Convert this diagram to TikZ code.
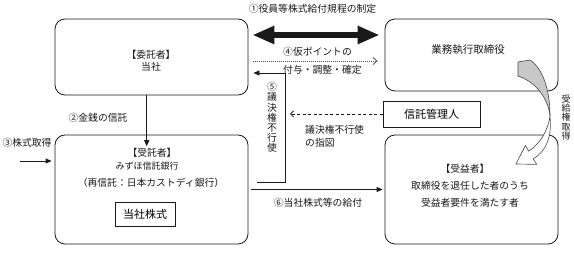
\documentclass[tikz,border=0pt]{standalone}
\usepackage{fontspec}
\setmainfont{Noto Sans CJK JP}
\usetikzlibrary{arrows.meta}
\definecolor{Ink}{HTML}{1A1A1A}
\definecolor{Ribbon}{HTML}{C8C8C8}

\begin{document}
\begin{tikzpicture}[x=1pt,y=-1pt,font=\fontsize{9.8}{12}\selectfont,party/.style={draw=Ink,line width=0.8pt,rounded corners=10pt,inner sep=0pt},plainbox/.style={draw=Ink,line width=0.8pt,inner sep=0pt},lbl/.style={inner sep=0pt,text=Ink},vtext/.style={lbl,align=center,font=\fontsize{9.8}{10.2}\selectfont},flow/.style={draw=Ink,line width=0.8pt,-{Triangle[length=6pt,width=5pt]}},bigflow/.style={draw=Ink,line width=6pt,{Triangle[length=22pt,width=17pt]}-{Triangle[length=22pt,width=17pt]}},dotflow/.style={draw=Ink!75,line width=0.8pt,dash pattern=on 0.8pt off 1.2pt,-{Straight Barb[length=4pt,width=7pt]}},dashflow/.style={draw=Ink,line width=0.8pt,dash pattern=on 3pt off 2.5pt,-{Straight Barb[length=3pt,width=6pt]}}]
\fill[white] (0,0) rectangle (574,261);
\useasboundingbox (0,0) rectangle (574,261);
% parties
\node[party,minimum width=193pt,minimum height=76pt] (consignor) at (151.5,57) {};
\node[lbl,align=center] (consignortxt) at (151,61) {【委託者】\\当社};
\node[party,minimum width=173pt,minimum height=72pt] (exec) at (471.5,55) {};
\node[lbl,font=\fontsize{10.5}{12}\selectfont] (exectxt) at (468,50) {業務執行取締役};
\node[party,minimum width=193pt,minimum height=109pt] (trustee) at (151.5,189.5) {};
\node[lbl] (trusteehead) at (152,153) {【受託者】};
\node[lbl,font=\fontsize{9}{11}\selectfont] (trusteename) at (147,166) {みずほ信託銀行};
\node[lbl] (trusteesub) at (151,183) {（再信託：日本カストディ銀行）};
\node[plainbox,minimum width=60pt,minimum height=24pt,font=\fontsize{11}{13}\selectfont] (stock) at (145,214) {当社株式};
\node[plainbox,minimum width=97pt,minimum height=26pt,font=\fontsize{11}{13}\selectfont] (trustmgr) at (431.5,114) {信託管理人};
\node[party,minimum width=173pt,minimum height=109pt] (benef) at (471.5,189.5) {};
\node[lbl] (benefhead) at (465,169) {【受益者】};
\node[lbl] (benefline1) at (470,186) {取締役を退任した者のうち};
\node[lbl] (benefline2) at (470,203) {受益者要件を満たす者};
% labels
\node[lbl] (lbl1) at (312.5,9) {①役員等株式給付規程の制定};
\node[lbl,anchor=west] (lbl4a) at (283,52) {④仮ポイントの};
\node[lbl,anchor=west] (lbl4b) at (283,70) {付与・調整・確定};
\node[lbl] (lbl2) at (98,118) {②金銭の信託};
\node[lbl] (lbl3) at (27,143) {③株式取得};
\node[vtext] (lbl5) at (272,117.5) {⑤\\議\\決\\権\\不\\行\\使};
\node[lbl,anchor=west] (lblinstra) at (305,130) {議決権不行使};
\node[lbl,anchor=west] (lblinstrb) at (305,143) {の指図};
\node[lbl] (lbl6) at (318,203) {⑥当社株式等の給付};
\node[vtext,font=\fontsize{9}{9.2}\selectfont] (lblright) at (566,117.5) {受\\給\\権\\取\\得};
% helper points
\coordinate (lvl1) at (0,35);
\coordinate (lvl4) at (0,61);
\coordinate (m2) at (146.7,0);
\coordinate (v5top) at (285,73);
\coordinate (v5bot) at (285,182);
\coordinate (src3) at (20,161);
\coordinate (instr) at (290,114);
% connectors
\draw[bigflow,shorten <=4pt,shorten >=5pt] (consignor.east |- lvl1) -- (exec.west |- lvl1);
\draw[dotflow,shorten <=5pt,shorten >=7pt] (consignor.east |- lvl4) -- (exec.west |- lvl4);
\draw[flow,shorten >=2pt] (consignor.south -| m2) -- (trusteehead.north -| m2);
\draw[flow,shorten >=3pt] (src3) -- (trustee.west |- src3);
\draw[flow,shorten <=9pt,shorten >=5pt] (trustee.east |- v5bot) -- (v5bot) -- (v5top) -- (consignor.east |- v5top);
\draw[dashflow] (trustmgr.west) -- (instr);
\draw[flow,shorten <=3pt,shorten >=2pt] (trustee.east) -- (benef.west);
% twisted ribbon arrow
\filldraw[fill=Ribbon,draw=Ink!80,line width=0.6pt] (518,62) -- (530,60) .. controls (542,68) and (550,88) .. (550,116) .. controls (548,98) and (536,82) .. (518,76) -- cycle;
\filldraw[fill=white,draw=Ink!80,line width=0.6pt] (550,116) .. controls (552,138) and (546,151) .. (533.3,158.9) -- (536.7,164.4) -- (516,164) -- (525.3,145.6) -- (528.7,151.1) .. controls (541,143) and (548,130) .. (550,116) -- cycle;
\end{tikzpicture}
\end{document}
